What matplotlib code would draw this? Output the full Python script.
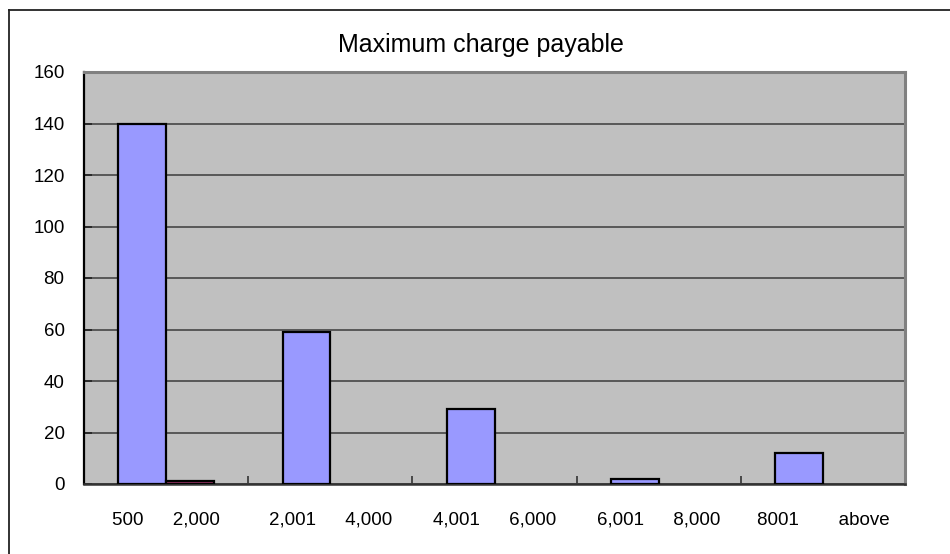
import numpy as np
import matplotlib
matplotlib.use("Agg")
import matplotlib.pyplot as plt
from matplotlib.lines import Line2D

categories = ["500\u2002\u2002  2,000", "2,001\u2002\u2002  4,000", "4,001\u2002\u2002  6,000",
              "6,001\u2002\u2002  8,000", "8001\u2002\u2002    above"]
series1 = [140, 59, 29, 2, 12]
series2 = [1, 0, 0, 0, 0]
yticks = [0, 20, 40, 60, 80, 100, 120, 140, 160]
title = "Maximum charge payable"

plt.rcParams['font.family'] = ['Liberation Sans', 'DejaVu Sans']

W, H = 950, 554
fig = plt.figure(figsize=(W / 100, H / 100), dpi=100)
ax = fig.add_axes([84 / W, 1 - 484 / H, (905 - 84) / W, (484 - 72) / H])
ax.set_facecolor('#C0C0C0')

x = np.arange(len(categories))
w = 0.29
s1 = np.array(series1, dtype=float)
s2 = np.array(series2, dtype=float)
m1 = s1 > 0
m2 = s2 > 0
ax.bar(x[m1] - w / 2, s1[m1], w, color='#9999FF', edgecolor='black', linewidth=1.6, zorder=3)
ax.bar(x[m2] + w / 2, s2[m2], w, color='#993366', edgecolor='black', linewidth=1.6, zorder=3)

ax.set_xlim(-0.5, len(categories) - 0.5)
ax.set_ylim(yticks[0], yticks[-1])
ax.set_yticks(yticks)
ax.set_yticklabels([str(v) for v in yticks])
ax.yaxis.grid(True, color='#505050', linewidth=1.3, zorder=1)
ax.set_axisbelow(True)

ax.set_xticks(np.arange(len(categories) + 1) - 0.5)
ax.set_xticklabels([])
ax.set_xticks(x, minor=True)
ax.set_xticklabels(categories, minor=True)
ax.tick_params(axis='x', which='major', direction='in', length=6, width=1.2, color='#333333')
ax.tick_params(axis='x', which='minor', length=0, pad=20, labelsize=13.5)
ax.tick_params(axis='y', direction='in', length=6, width=1.2, color='#222222', pad=14, labelsize=13.5)

for s in ['top', 'right']:
    ax.spines[s].set_color('#808080')
    ax.spines[s].set_linewidth(2.2)
ax.spines['left'].set_color('black')
ax.spines['left'].set_linewidth(1.6)
ax.spines['bottom'].set_color('#333333')
ax.spines['bottom'].set_linewidth(1.8)

fig.text(481 / W, 1 - 45 / H, title, ha='center', va='center', fontsize=18)

# chart area border (left and top visible)
fig.add_artist(Line2D([8.5 / W, 8.5 / W], [0, 1 - 10 / H], transform=fig.transFigure, color='#222222', linewidth=1.3))
fig.add_artist(Line2D([8.5 / W, 1], [1 - 10 / H, 1 - 10 / H], transform=fig.transFigure, color='#222222', linewidth=1.3))

fig.savefig('out.png', dpi=100)
